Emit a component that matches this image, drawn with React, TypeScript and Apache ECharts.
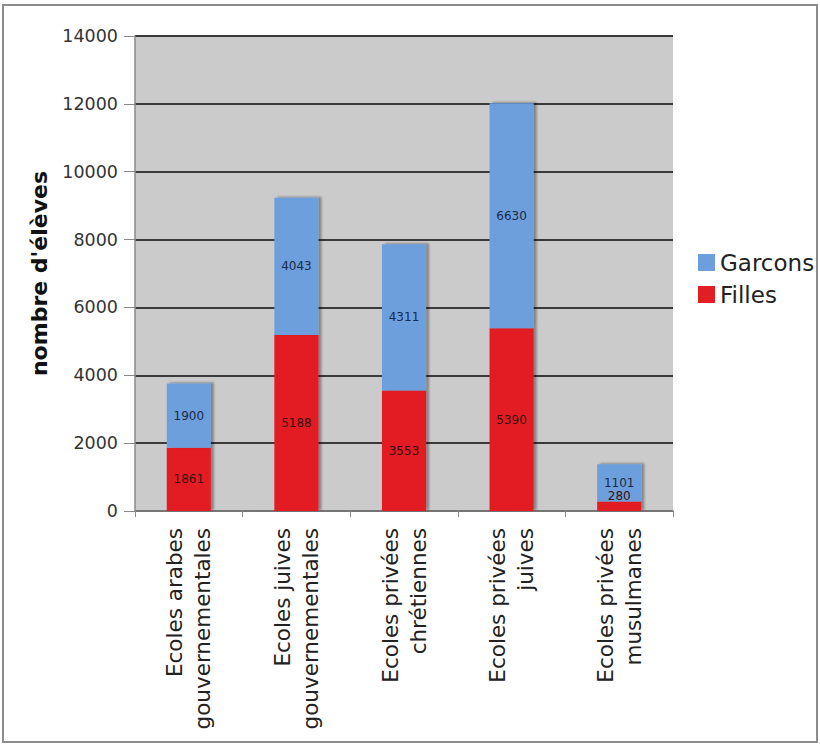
import React, { useEffect, useRef } from "react";
import * as echarts from "echarts";

const categories = [
  "Ecoles arabes\ngouvernementales",
  "Ecoles juives\ngouvernementales",
  "Ecoles privées\nchrétiennes",
  "Ecoles privées\njuives",
  "Ecoles privées\nmusulmanes",
];
const filles = [1861, 5188, 3553, 5390, 280];
const garcons = [1900, 4043, 4311, 6630, 1101];
const yTicks = { min: 0, max: 14000, interval: 2000 };

const FONT = "DejaVu Sans";

export default function App() {
  const ref = useRef<HTMLDivElement>(null);
  useEffect(() => {
    if (!ref.current) return;
    const chart = echarts.init(ref.current, undefined, { renderer: "svg" });
    const shadow = {
      shadowColor: "rgba(0,0,0,0.35)",
      shadowBlur: 2,
      shadowOffsetX: 3,
      shadowOffsetY: -1,
    };
    chart.setOption({
      animation: false,
      backgroundColor: "#ffffff",
      graphic: [
        {
          type: "rect",
          shape: { x: 3, y: 5, width: 814, height: 737 },
          style: { fill: "none", stroke: "#8c8c8c", lineWidth: 2 },
          silent: true,
          z: 100,
        },
      ],
      legend: {
        orient: "vertical",
        left: 693,
        top: 246,
        itemWidth: 17,
        itemHeight: 17,
        itemGap: 9,
        icon: "rect",
        data: ["Garcons", "Filles"],
        textStyle: { fontFamily: FONT, fontSize: 23, color: "#222" },
      },
      grid: { left: 135, right: 147, top: 36, bottom: 233, backgroundColor: "#cbcbcb", show: true, borderWidth: 0 },
      xAxis: {
        type: "category",
        data: categories,
        axisLine: { show: true, lineStyle: { color: "#8a8a8a", width: 1.5 } },
        axisTick: { show: true, length: 6, lineStyle: { color: "#8a8a8a" } },
        axisLabel: {
          rotate: 90,
          margin: 17,
          fontFamily: FONT,
          fontSize: 21.5,
          lineHeight: 28,
          color: "#222",
          interval: 0,
        },
        splitLine: { show: false },
      },
      yAxis: {
        type: "value",
        min: yTicks.min,
        max: yTicks.max,
        interval: yTicks.interval,
        name: "nombre d'élèves",
        nameLocation: "middle",
        nameGap: 85,
        nameTextStyle: { fontFamily: FONT, fontSize: 22, fontWeight: "bold", color: "#111" },
        axisLine: { show: true, lineStyle: { color: "#8a8a8a", width: 1.5 } },
        axisTick: { show: true, length: 11, lineStyle: { color: "#8a8a8a" } },
        axisLabel: {
          margin: 17,
          fontFamily: FONT,
          fontSize: 17.5,
          color: "#333",
          formatter: (v: number) => String(v),
        },
        splitLine: { show: true, lineStyle: { color: "#3a3a3a", width: 1.8 } },
      },
      series: [
        {
          name: "Filles",
          type: "bar",
          stack: "total",
          barWidth: "41%",
          data: filles.map((v, i) =>
            i === filles.length - 1
              ? { value: v, label: { offset: [0, -10] } }
              : v
          ),
          itemStyle: { color: "#e21d24", ...shadow },
          label: {
            show: true,
            position: "inside",
            fontFamily: FONT,
            fontSize: 12,
            color: "#3b0f0f",
          },
        },
        {
          name: "Garcons",
          type: "bar",
          stack: "total",
          barWidth: "41%",
          data: garcons,
          itemStyle: { color: "#6c9fdc", ...shadow },
          label: {
            show: true,
            position: "inside",
            fontFamily: FONT,
            fontSize: 12,
            color: "#1b2a4a",
          },
        },
      ],
    });
    return () => chart.dispose();
  }, []);
  return (
    <div
      ref={ref}
      style={{ position: "absolute", left: 0, top: 0, width: 820, height: 744 }}
    />
  );
}
